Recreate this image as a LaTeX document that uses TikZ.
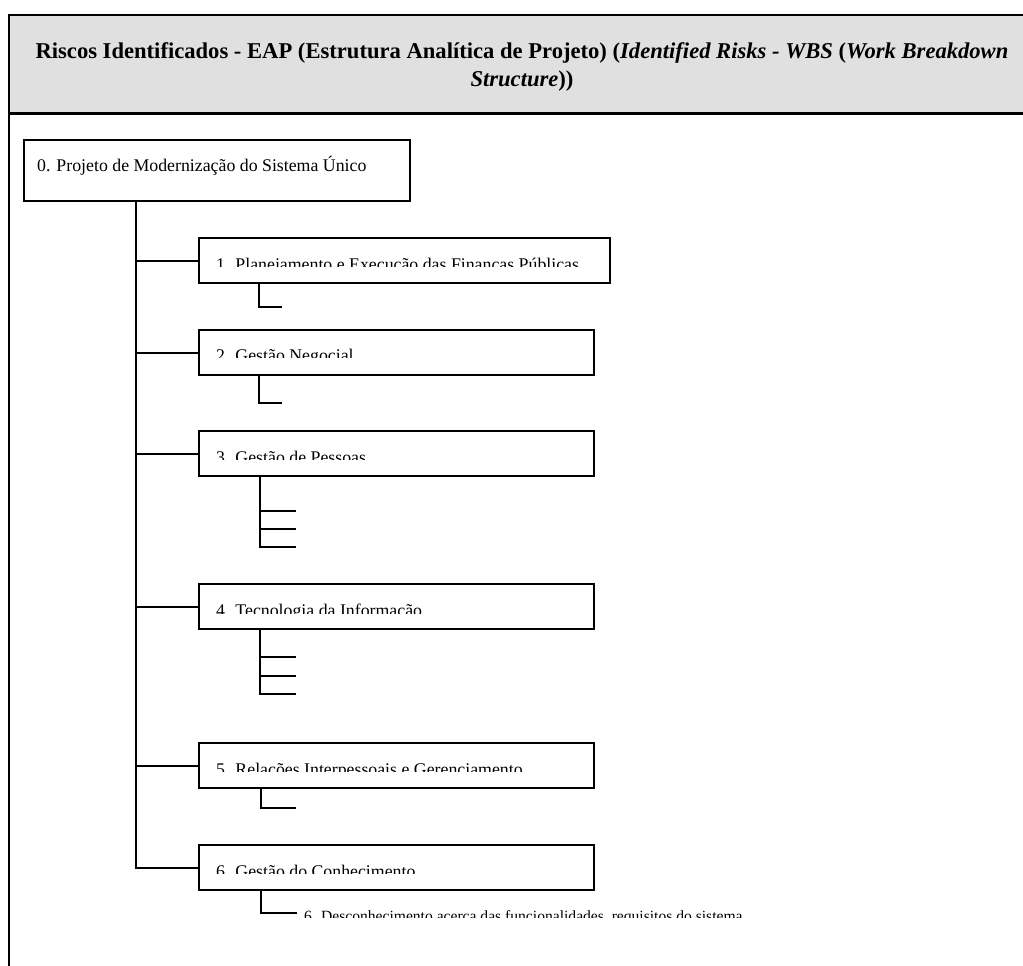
\documentclass[tikz,border=0pt]{standalone}
\usepackage{fontspec}
\setmainfont{Liberation Serif}
\begin{document}
\begin{tikzpicture}[x=1pt,y=-1pt,
  wbox/.style={draw=black,line width=2.3pt,fill=white,inner sep=0pt,anchor=north west},
  conn/.style={draw=black,line width=2.2pt},
  lbl/.style={anchor=base west,inner sep=0pt,font=\fontsize{17.8}{20}\selectfont},
]
\useasboundingbox (0,0) rectangle (1023,966);
% header
\fill[fill={rgb,255:red,224;green,224;blue,224}] (9,15) rectangle (1023,113);
\draw[line width=2.2pt] (9,966) -- (9,15) -- (1023,15);
\draw[line width=3pt] (9,113) -- (1023,113);
\node[inner sep=0pt,anchor=base,align=center,font=\bfseries\fontsize{22.6}{28}\selectfont] (title) at (522,86)
 {Riscos Identificados - EAP (Estrutura Analítica de Projeto) (\textit{Identified Risks - WBS} (\textit{Work Breakdown}\\ \textit{Structure}))};
% root
\node[wbox,minimum width=386pt,minimum height=61pt] (root) at (23,139) {};
\node[lbl] (rootlbl) at (37,171) {0. Projeto de Modernização do Sistema Único};
% children boxes
\node[wbox,minimum width=411pt,minimum height=45pt] (b1) at (198,237) {};
\node[wbox,minimum width=395pt,minimum height=45pt] (b2) at (198,329) {};
\node[wbox,minimum width=395pt,minimum height=45pt] (b3) at (198,430) {};
\node[wbox,minimum width=395pt,minimum height=45pt] (b4) at (198,583) {};
\node[wbox,minimum width=395pt,minimum height=45pt] (b5) at (198,742) {};
\node[wbox,minimum width=395pt,minimum height=45pt] (b6) at (198,844) {};
% clipped labels
\begin{scope}\clip (200,200) rectangle (620,266);
\node[lbl] (l1) at (216,270) {1. Planejamento e Execução das Finanças Públicas};\end{scope}
\begin{scope}\clip (200,330) rectangle (620,357);
\node[lbl] (l2) at (216,361) {2. Gestão Negocial};\end{scope}
\begin{scope}\clip (200,432) rectangle (620,459);
\node[lbl] (l3) at (216,463) {3. Gestão de Pessoas};\end{scope}
\begin{scope}\clip (200,585) rectangle (620,613);
\node[lbl] (l4) at (216,616) {4. Tecnologia da Informação};\end{scope}
\begin{scope}\clip (200,744) rectangle (620,771);
\node[lbl] (l5) at (216,775) {5. Relações Interpessoais e Gerenciamento};\end{scope}
\begin{scope}\clip (200,846) rectangle (620,873);
\node[lbl] (l6) at (216,877) {6. Gestão do Conhecimento};\end{scope}
\begin{scope}\clip (300,900) rectangle (900,917);
\node[lbl,font=\fontsize{15.6}{18}\selectfont] (l7) at (304,921) {6. Desconhecimento acerca das funcionalidades, requisitos do sistema};\end{scope}
% trunk
\coordinate (tr) at (136,0);
\draw[conn] (root.south -| tr) |- (b6.west);
\foreach \b in {b1,b2,b3,b4,b5}{\draw[conn] (root.south -| tr) |- (\b.west);}
% sub connectors
\coordinate (v1) at (259,0);
\coordinate (e1) at (282,307);
\draw[conn] (b1.south -| v1) |- (e1);
\coordinate (e2) at (282,403);
\draw[conn] (b2.south -| v1) |- (e2);
\coordinate (v3) at (260,0);
\coordinate (e3a) at (296,511);
\coordinate (e3b) at (296,529);
\coordinate (e3c) at (296,547);
\draw[conn] (b3.south -| v3) |- (e3c);
\draw[conn] (e3a -| v3) -- (e3a);
\draw[conn] (e3b -| v3) -- (e3b);
\coordinate (e4a) at (296,657);
\coordinate (e4b) at (296,676);
\coordinate (e4c) at (296,694);
\draw[conn] (b4.south -| v3) |- (e4c);
\draw[conn] (e4a -| v3) -- (e4a);
\draw[conn] (e4b -| v3) -- (e4b);
\coordinate (v5) at (261,0);
\coordinate (e5) at (296,808);
\draw[conn] (b5.south -| v5) |- (e5);
\coordinate (e6) at (297,913);
\draw[conn] (b6.south -| v5) |- (e6);
\end{tikzpicture}
\end{document}
